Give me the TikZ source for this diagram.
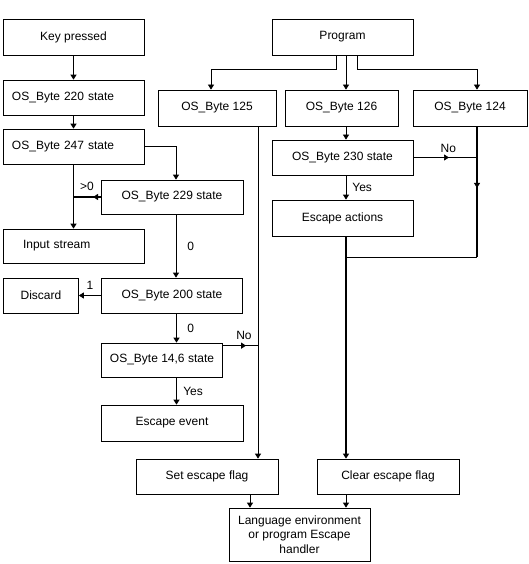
\documentclass[tikz,border=0pt]{standalone}
\usepackage{fontspec}
\setmainfont{Liberation Sans}
\usetikzlibrary{positioning,arrows.meta,shadows,decorations.markings}

\begin{document}
\begin{tikzpicture}[x=1pt,y=-1pt,on grid,
  >={Triangle[length=5pt,width=6pt]},
  box/.style={draw,line width=0.7pt,fill=white,minimum width=141pt,minimum height=35pt,inner sep=2pt,
    font=\fontsize{12}{14.5}\selectfont,
    drop shadow={shadow xshift=0.7pt,shadow yshift=-0.7pt,opacity=1,fill=black}},
  lbox/.style={box,align=left},
  thin line/.style={line width=0.7pt},
  thick line/.style={line width=1.6pt},
  lbl/.style={font=\fontsize{12}{14}\selectfont,inner sep=1pt},
  midarrow/.style={postaction={decorate},decoration={markings,mark=at position #1 with {\arrow{>}}}}]
  \useasboundingbox (0,0) rectangle (529,564);

  % left column
  \node[box,minimum height=36pt] (key) at (73.5,37) {Key pressed};
  \node[lbox,inner xsep=9pt,text width=123pt] (b220) [below=60.5pt of key] {OS\_Byte 220 state};
  \node[lbox,inner xsep=9pt,text width=123pt] (b247) [below=49pt of b220] {OS\_Byte 247 state};
  \node[box,minimum width=142pt,minimum height=34pt] (b229) [below right=50.5pt and 98.5pt of b247] {OS\_Byte 229 state};
  \node[lbox,inner xsep=20pt,text width=101pt,minimum height=34pt] (input) [below=99.5pt of b247] {Input stream};
  \node[box] (b200) [below=98.5pt of b229] {OS\_Byte 200 state};
  \node[box,minimum width=75pt] (discard) [left=131pt of b200] {Discard};
  \node[box,minimum width=121pt,minimum height=34pt,inner xsep=1pt] (b146) [below left=64.5pt and 10pt of b200] {OS\_Byte 14,6 state};
  \node[box,minimum width=142pt,minimum height=36pt] (escev) [below=127.5pt of b200] {Escape event};

  % right column
  \node[box,minimum height=36pt] (prog) [right=269pt of key] {Program};
  \node[box,minimum width=118pt,minimum height=36pt] (b125) [below left=71pt and 125.5pt of prog] {OS\_Byte 125};
  \node[box,minimum width=113pt,minimum height=36pt] (b126) [below left=71pt and 1pt of prog] {OS\_Byte 126};
  \node[box,minimum width=114pt,minimum height=36pt] (b124) [below right=71pt and 127.5pt of prog] {OS\_Byte 124};
  \node[box] (b230) [below=120.5pt of prog] {OS\_Byte 230 state};
  \node[box,minimum height=36pt] (escact) [below=60.5pt of b230] {Escape actions};

  % bottom row
  \node[box,minimum width=142pt] (setflag) [below right=53.5pt and 35pt of escev] {Set escape flag};
  \node[box,minimum width=142pt] (clrflag) [right=181pt of setflag] {Clear escape flag};
  \node[box,minimum height=53pt,align=center] (lang) [below right=58pt and 92.5pt of setflag] {Language environment\\or program Escape\\handler};

  \coordinate (c125) at ([xshift=41pt]b125.south);
  \coordinate (c124) at ([xshift=7pt]b124.south);
  \coordinate (cesc) at ([xshift=3.5pt]escact.south);

  % keyboard side
  \draw[thick line,->] (key) -- (b220);
  \draw[thick line,->] (b220) -- (b247);
  \draw[thick line,->] (b247) -- (input);
  \draw[thin line,->] (b247.east) -| ([xshift=4pt]b229.north);
  \draw[thick line,midarrow=0.28] (b229.west) -- (b229.west -| b247.south)
    node[lbl,pos=0.5,anchor=south,yshift=5pt] {>0};
  \draw[thin line,->] ([xshift=4pt]b229.south) -- ([xshift=4pt]b229.south |- b200.north)
    node[lbl,midway,anchor=west,xshift=10pt] {0};
  \draw[thin line,->] (b200.west) -- (discard.east)
    node[lbl,midway,anchor=south,yshift=5pt] {1};
  \draw[thick line,->] ([xshift=4.5pt]b200.south) -- ([xshift=4.5pt]b200.south |- b146.north)
    node[lbl,midway,anchor=west,xshift=9pt] {0};
  \draw[thick line,midarrow=0.66] ([yshift=-3pt]b146.north east) -- ([yshift=-3pt]b146.north east -| c125)
    node[lbl,pos=0.6,anchor=south,yshift=4pt] {No};
  \draw[thick line,->] ([xshift=14.5pt]b146.south) -- ([xshift=14.5pt]b146.south |- escev.north)
    node[lbl,midway,anchor=west,xshift=5pt] {Yes};

  % program side
  \draw[thin line,->] ([xshift=-6.5pt]prog.south) -- ++(0,14) -| ([xshift=-6pt]b125.north);
  \draw[thin line,->] ([xshift=3.5pt]prog.south) -- ([xshift=3.5pt]prog.south |- b126.north);
  \draw[thin line,->] ([xshift=14.5pt]prog.south) -- ++(0,14) -| ([xshift=7pt]b124.north);
  \draw[thin line,->] ([xshift=4.5pt]b126.south) -- ([xshift=4.5pt]b126.south |- b230.north);
  \draw[thin line,midarrow=0.56] (b230.east) -- (b230.east -| c124)
    node[lbl,pos=0.55,anchor=south,yshift=4pt] {No};
  \draw[thin line,->] (cesc |- b230.south) -- (cesc |- escact.north)
    node[lbl,midway,anchor=west,xshift=5pt] {Yes};
  \draw[thick line,midarrow=0.47] (c124) -- ++(0,131) coordinate (c124b);
  \draw[thin line] (c124b) -- (c124b -| cesc);
  \draw[thick line,->] (cesc) -- (cesc |- clrflag.north);
  \draw[thin line,->] (c125) -- (c125 |- setflag.north);

  % into handler
  \draw[thin line,->] ([xshift=43pt]setflag.south) -- ([xshift=43pt]setflag.south |- lang.north);
  \draw[thin line,->] ([xshift=-42pt]clrflag.south) -- ([xshift=-42pt]clrflag.south |- lang.north);
\end{tikzpicture}
\end{document}
